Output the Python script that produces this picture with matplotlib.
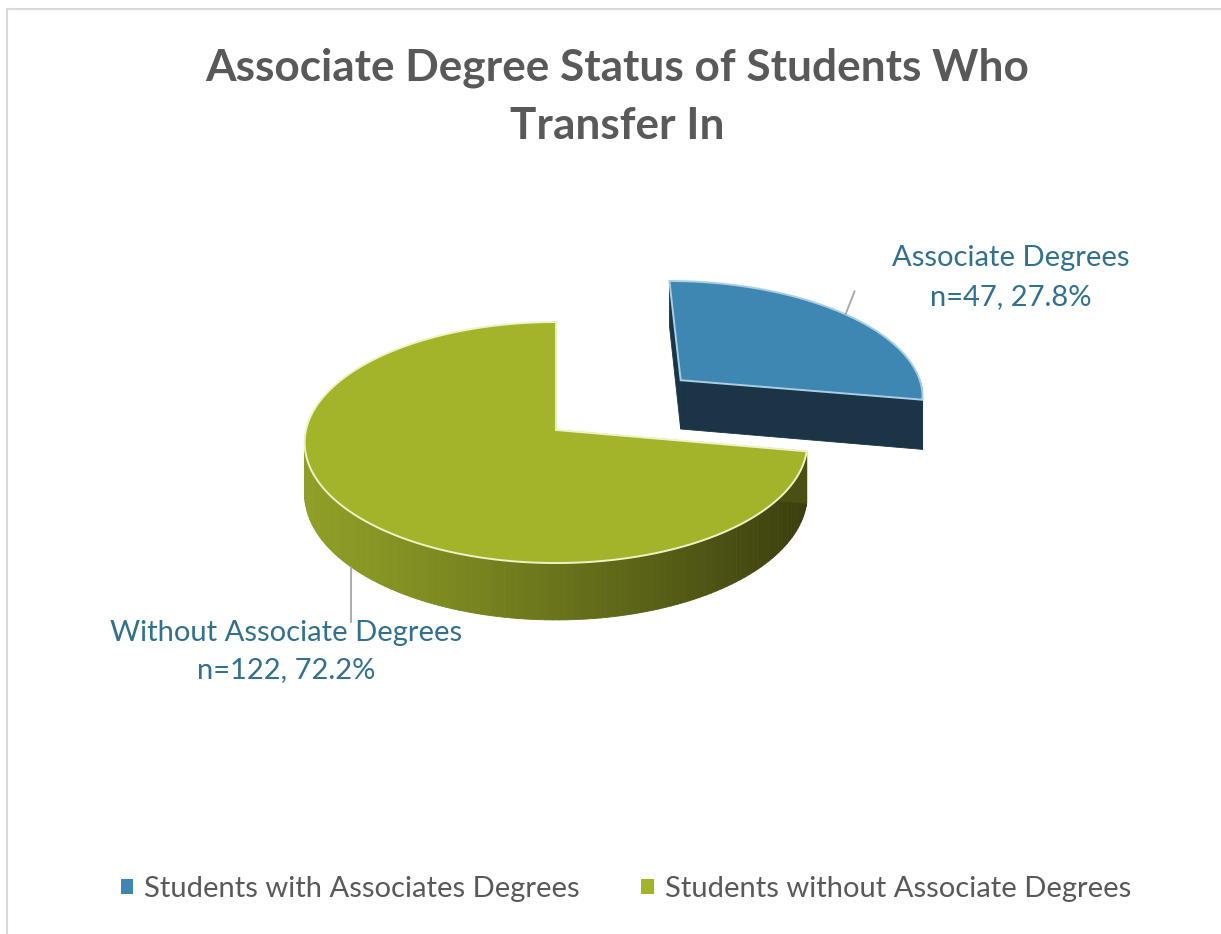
import matplotlib.pyplot as plt
import numpy as np
from matplotlib.patches import Polygon, Patch
from matplotlib.colors import to_rgb

# data
categories = ['Students with Associates Degrees', 'Students without Associate Degrees']
label_names = ['Associate Degrees', 'Without Associate Degrees']
counts = [47, 122]
percents = [27.8, 72.2]
explode = [0.68, 0.0]

top_colors = ['#3F87B3', '#A4B42A']
side_colors = ['#1B3446', '#4A5012']
edge_colors = ['#A9CFE6', '#EEF3C6']
wall_left = ['#1B3446', '#8E9E26']
wall_right = ['#1B3446', '#3B3E0E']

# projection of the tilted pie (pixel space)
cx, cy = 556, 430
A, B, H, k = 250, 119.2, 51, 0.104


def proj(X, Y, Z):
    s = 1.0 / (1 + k * Y)
    return cx + A * X * s, cy - (B * Y + H * Z) * s


def arc(ox, oy, t0, t1, z, n=200):
    t = np.radians(np.linspace(t0, t1, n))
    return proj(ox + np.cos(t), oy + np.sin(t), z)


fig = plt.figure(figsize=(12.21, 9.34), dpi=100)
ax = fig.add_axes([0, 0, 1, 1])
ax.set_xlim(0, 1221)
ax.set_ylim(934, 0)
ax.axis('off')

# chart frame
ax.plot([7, 7], [9, 934], color='#D9D9D9', lw=1.5)
ax.plot([7, 1221], [9, 9], color='#D9D9D9', lw=1.5)

total = float(sum(counts))
bounds = 90 - np.concatenate([[0], np.cumsum(counts)]) / total * 360

for i in range(len(counts)):
    t_start, t_end = bounds[i], bounds[i + 1]
    mid = (t_start + t_end) / 2
    ox = explode[i] * np.cos(np.radians(mid))
    oy = explode[i] * np.sin(np.radians(mid))

    # outer wall, front half only
    w0, w1 = max(t_end, -180), min(t_start, 0)
    if w1 > w0:
        n = 120
        xt, yt = arc(ox, oy, w0, w1, 0, n + 1)
        xb, yb = arc(ox, oy, w0, w1, -1, n + 1)
        c0, c1 = np.array(to_rgb(wall_left[i])), np.array(to_rgb(wall_right[i]))
        xmin, xmax = cx - A, cx + A
        for j in range(n):
            f = np.clip(((xt[j] + xt[j + 1]) / 2 - xmin) / (xmax - xmin), 0, 1)
            col = c0 + (c1 - c0) * f ** 1.2
            poly = [(xt[j], yt[j]), (xt[j + 1], yt[j + 1]),
                    (xb[j + 1], yb[j + 1]), (xb[j], yb[j])]
            ax.add_patch(Polygon(poly, closed=True, facecolor=col,
                                 edgecolor=col, lw=0.6))

    # radial cut faces
    for t in (t_start, t_end):
        c, s_ = np.cos(np.radians(t)), np.sin(np.radians(t))
        p = [proj(ox, oy, 0), proj(ox + c, oy + s_, 0),
             proj(ox + c, oy + s_, -1), proj(ox, oy, -1)]
        ax.add_patch(Polygon(p, closed=True, facecolor=side_colors[i],
                             edgecolor=side_colors[i], lw=0.6))

    # top surface
    xa, ya = arc(ox, oy, t_end, t_start, 0, 300)
    apex = proj(ox, oy, 0)
    pts = [apex] + list(zip(xa, ya))
    ax.add_patch(Polygon(pts, closed=True, facecolor=top_colors[i],
                         edgecolor=edge_colors[i], lw=1.4))

label_color = '#31708F'
lfont = dict(family='Lato', fontsize=21, color=label_color, ha='center', va='center')

# label for "with" slice (leader from the arc mid point)
mid0 = np.radians((bounds[0] + bounds[1]) / 2)
ex0, ey0 = explode[0] * np.cos(mid0), explode[0] * np.sin(mid0)
lx, ly = proj(ex0 + np.cos(mid0), ey0 + np.sin(mid0), 0)
ax.plot([lx, lx + 9], [ly, ly - 23], color='#A6A6A6', lw=1.3)
ax.text(1011, 258, label_names[0], **lfont)
ax.text(1011, 297, 'n=%d, %.1f%%' % (counts[0], percents[0]), **lfont)

# label for "without" slice (leader from the bottom of the wall)
mid1 = np.radians((bounds[1] + bounds[2]) / 2)
gx, gy = proj(np.cos(mid1), np.sin(mid1), -1)
ax.plot([gx, gx], [gy, 622], color='#A6A6A6', lw=1.3)
ax.text(286, 633, label_names[1], **lfont)
ax.text(286, 670, 'n=%d, %.1f%%' % (counts[1], percents[1]), **lfont)

# title
ax.text(617, 68, 'Associate Degree Status of Students Who', family='Lato',
        fontweight='bold', fontsize=31.8, color='#595959', ha='center', va='center')
ax.text(617, 126, 'Transfer In', family='Lato', fontweight='bold', fontsize=31.8,
        color='#595959', ha='center', va='center')

# legend
handles = [Patch(facecolor=c, edgecolor='none') for c in top_colors]
leg = ax.legend(handles, categories, loc='center', bbox_to_anchor=(626, 889),
                bbox_transform=ax.transData, ncol=2, frameon=False,
                handlelength=0.42, handleheight=0.42, handletextpad=0.38,
                columnspacing=2.1, prop={'family': 'Lato', 'size': 21})
for t in leg.get_texts():
    t.set_color('#595959')

plt.savefig('out.png', dpi=100)
